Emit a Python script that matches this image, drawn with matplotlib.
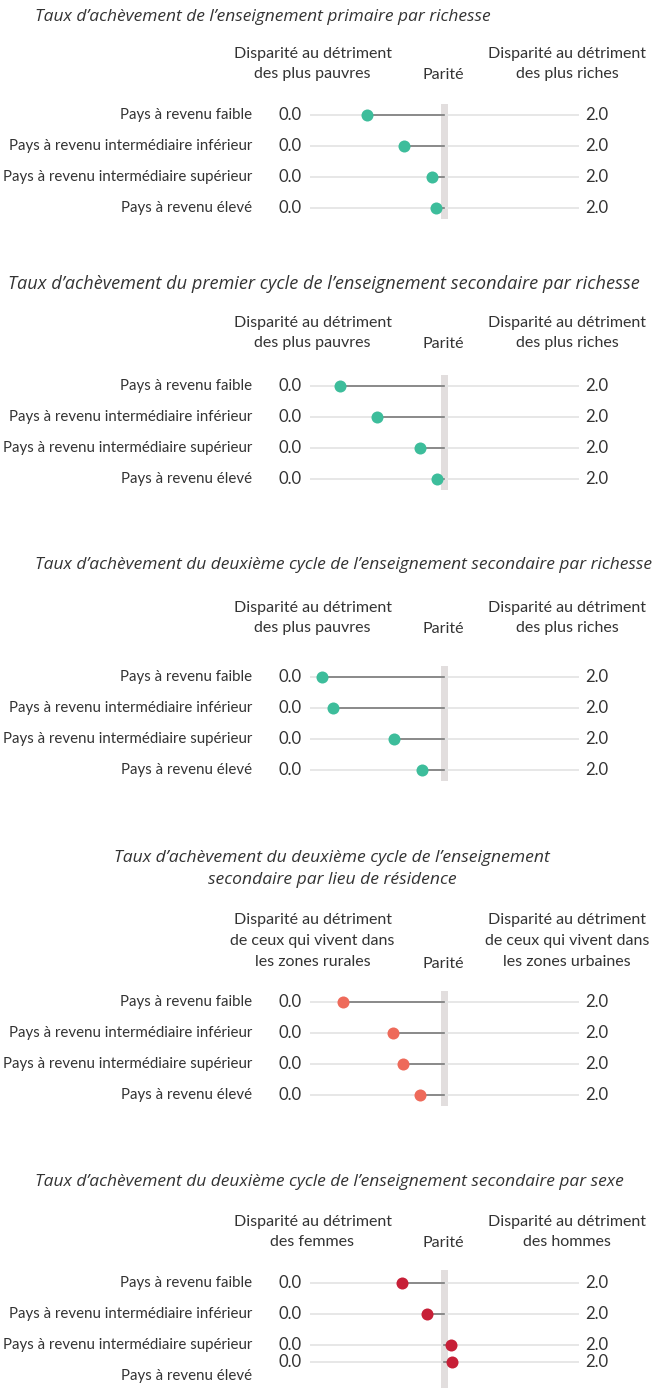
import matplotlib
matplotlib.use("Agg")
import matplotlib.pyplot as plt

# data
groups = ["Pays à revenu faible",
          "Pays à revenu intermédiaire inférieur",
          "Pays à revenu intermédiaire supérieur",
          "Pays à revenu élevé"]

titles = [
    "Taux d’achèvement de l’enseignement primaire par richesse",
    "Taux d’achèvement du premier cycle de l’enseignement secondaire par richesse",
    "Taux d’achèvement du deuxième cycle de l’enseignement secondaire par richesse",
    "Taux d’achèvement du deuxième cycle de l’enseignement\nsecondaire par lieu de résidence",
    "Taux d’achèvement du deuxième cycle de l’enseignement secondaire par sexe",
]
left_heads = [
    "Disparité au détriment\ndes plus pauvres",
    "Disparité au détriment\ndes plus pauvres",
    "Disparité au détriment\ndes plus pauvres",
    "Disparité au détriment\nde ceux qui vivent dans\nles zones rurales",
    "Disparité au détriment\ndes femmes",
]
right_heads = [
    "Disparité au détriment\ndes plus riches",
    "Disparité au détriment\ndes plus riches",
    "Disparité au détriment\ndes plus riches",
    "Disparité au détriment\nde ceux qui vivent dans\nles zones urbaines",
    "Disparité au détriment\ndes hommes",
]
primary_wealth = [0.425, 0.70, 0.91, 0.94]
lower_sec_wealth = [0.23, 0.50, 0.82, 0.95]
upper_sec_wealth = [0.09, 0.177, 0.63, 0.836]
upper_sec_location = [0.25, 0.62, 0.694, 0.82]
upper_sec_sex = [0.69, 0.874, 1.05, 1.06]
values = [primary_wealth, lower_sec_wealth, upper_sec_wealth,
          upper_sec_location, upper_sec_sex]
colors = ["#3dbd9b", "#3dbd9b", "#3dbd9b", "#ee6a5a", "#c71f37"]

# layout (pixels from top of figure)
W, H = 653, 1388
row_top = [115, 386, 677, 1002, 1283]
title_y = [17, 284, 565, 858, 1182]
title_x = [35, 8, 35, 332, 35]
title_w = [455, 630, 617, 435, 590]   # width of first title line in px
title_ha = ["left", "left", "left", "center", "left"]
head_y = [64, 333, 618, 941, 1232]
parite_y = [75, 344, 629, 964, 1243]
step = 31.0

lab_font = ["Lato", "DejaVu Sans"]
title_font = ["Open Sans", "DejaVu Sans"]
txt = "#333333"

fig = plt.figure(figsize=(W / 100, H / 100), dpi=100)
renderer = fig.canvas.get_renderer()
x0, x1 = 309.5, 578.5

for k in range(5):
    vals = values[k]
    rows = [0, 1, 2, 3]
    labrows = [0, 1, 2, 3]
    top, bot = -0.34, 3.34
    if k == 4:
        # last panel: the final point sits just under the third one
        rows = [0, 1, 2, 2.55]
        labrows = [0, 1, 2, 3.0]
        top, bot = -0.42, 3.39
    ax_top = row_top[k] + top * step
    ax_bot = row_top[k] + bot * step
    ax = fig.add_axes([x0 / W, 1 - ax_bot / H, (x1 - x0) / W, (ax_bot - ax_top) / H])
    ax.set_xlim(0, 2)
    ax.set_ylim(bot, top)
    ax.axis("off")
    ax.axvspan(0.975, 1.03, color="#e2dede", zorder=0, lw=0)
    for r, v in zip(rows, vals):
        ax.plot([0, 2], [r, r], color="#e3e3e3", lw=1.2, zorder=1)
        ax.plot([v, 1.0], [r, r], color="#7a7a7a", lw=1.2, zorder=2)
        ax.scatter([v], [r], s=75, color=colors[k], zorder=3, lw=0)
        ax.text(-0.06, r, "0.0", ha="right", va="center", fontsize=12,
                color=txt, family=lab_font)
        ax.text(2.05, r, "2.0", ha="left", va="center", fontsize=12,
                color=txt, family=lab_font)
    for r, g in zip(labrows, groups):
        fig.text(252 / W, 1 - (row_top[k] + r * step) / H, g, ha="right",
                 va="center", fontsize=10.8, color=txt, family=lab_font)

    t = fig.text(title_x[k] / W, 1 - title_y[k] / H, titles[k].split("\n")[0],
                 ha=title_ha[k], va="center", fontsize=11, style="italic",
                 color=txt, family=title_font)
    wpx = t.get_window_extent(renderer).width
    fs = 11 * title_w[k] / wpx
    t.set_fontsize(fs)
    if "\n" in titles[k]:
        fig.text(title_x[k] / W, 1 - (title_y[k] + 22) / H, titles[k].split("\n")[1],
                 ha="center", va="center", fontsize=fs, style="italic",
                 color=txt, family=title_font)

    fig.text(312.5 / W, 1 - head_y[k] / H, left_heads[k], ha="center", va="center",
             fontsize=11.5, color=txt, family=lab_font, linespacing=1.6,
             multialignment="center")
    fig.text(567 / W, 1 - head_y[k] / H, right_heads[k], ha="center", va="center",
             fontsize=11.5, color=txt, family=lab_font, linespacing=1.6,
             multialignment="center")
    fig.text(443 / W, 1 - parite_y[k] / H, "Parité", ha="center", va="center",
             fontsize=11.5, color=txt, family=lab_font)

fig.savefig("out.png", dpi=100)
